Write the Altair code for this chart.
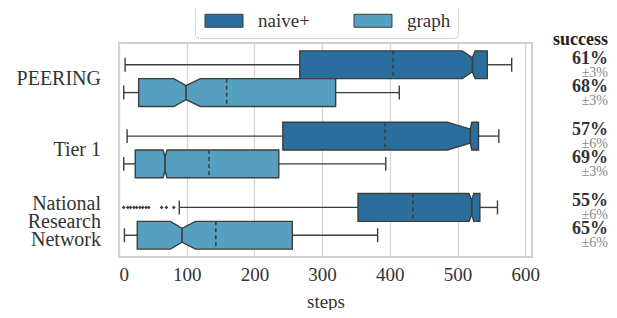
import altair as alt
import pandas as pd

# ---- data ----
groups = ["PEERING", "Tier 1", "National Research Network"]
group_labels = ["PEERING", "Tier 1", "National\nResearch\nNetwork"]
series = ["naive+", "graph"]
colors = ["#2a6e9e", "#55a0c0"]

# order: PEERING naive+, PEERING graph, Tier 1 naive+, Tier 1 graph, NRN naive+, NRN graph
whislo = [9, 7, 12, 7, 89, 8]
q1 = [267, 29, 242, 24, 353, 27]
notch_lo = [507, 81, 485, 65, 517, 76]
median = [522, 99, 519, 68, 521, 93]
notch_hi = [526, 120, 521, 71, 524, 113]
q3 = [544, 320, 531, 236, 533, 256]
whishi = [580, 414, 561, 394, 559, 382]
mean = [405, 159, 393, 133, 434, 143]
success = ["61%", "68%", "57%", "69%", "55%", "65%"]
spread = ["±3%", "±3%", "±6%", "±3%", "±6%", "±6%"]
fliers_nrn_naive = [7, 13, 17, 22, 26, 31, 35, 40, 44, 63, 70, 81]
x_ticks = [0, 100, 200, 300, 400, 500, 600]

half = 0.195  # half box height in group units

rows, poly = [], []
for gi, g in enumerate(groups):
    for si, s in enumerate(series):
        k = gi * 2 + si
        c = gi + 0.5 + (si - 0.5) * 2 * half
        rows.append(dict(group=g, series=s, c=c, top=c - half, bot=c + half,
                         qtop=c - half / 2, qbot=c + half / 2,
                         whislo=whislo[k], q1=q1[k], med=median[k], q3=q3[k],
                         whishi=whishi[k], mean=mean[k],
                         succ=success[k], spr=spread[k]))
        xs = [q1[k], notch_lo[k], median[k], notch_hi[k], q3[k]]
        narrow = [False, False, True, False, False]
        for xv, nw in zip(xs, narrow):
            poly.append(dict(box=f"{g}-{s}", series=s, x=xv,
                             top=c - (half / 2 if nw else half),
                             bot=c + (half / 2 if nw else half)))
df = pd.DataFrame(rows)
dpoly = pd.DataFrame(poly)
nrn_c = df[(df.group == groups[2]) & (df.series == "naive+")].c.iloc[0]
dfl = pd.DataFrame({"x": fliers_nrn_naive, "c": nrn_c})
dlab = pd.DataFrame({"label": group_labels, "c": [i + 0.5 for i in range(3)],
                     "multi": ["\n" in l for l in group_labels]})

FONT = "Liberation Serif"
STROKE = "#3d3d3d"
xscale = alt.Scale(domain=[0, 610], nice=False, zero=False)
yscale = alt.Scale(domain=[0, 3], reverse=True, nice=False, zero=False)
xaxis = alt.Axis(values=x_ticks, title="steps", grid=True, ticks=False, domain=False,
                 labelFont=FONT, labelFontSize=19, labelPadding=8, labelColor="#333",
                 titleFont=FONT, titleFontSize=19, titleFontWeight="normal",
                 titlePadding=8, titleColor="#333", gridColor="#d6d6d6", gridWidth=1.3)


def Y(field):
    return alt.Y(field, scale=yscale, axis=None, stack=None)


def X(field):
    return alt.X(field, scale=xscale, axis=xaxis, title="steps")


base = alt.Chart(df)

whisk_lo = base.mark_rule(color=STROKE, strokeWidth=1.4).encode(
    x=X("whislo:Q"), x2="q1:Q", y=Y("c:Q"))
whisk_hi = base.mark_rule(color=STROKE, strokeWidth=1.4).encode(
    x=X("q3:Q"), x2="whishi:Q", y=Y("c:Q"))
cap_lo = base.mark_rule(color=STROKE, strokeWidth=1.4).encode(
    x=X("whislo:Q"), y=Y("qtop:Q"), y2="qbot:Q")
cap_hi = base.mark_rule(color=STROKE, strokeWidth=1.4).encode(
    x=X("whishi:Q"), y=Y("qtop:Q"), y2="qbot:Q")

boxes = alt.Chart(dpoly).mark_area(orient="vertical", stroke=STROKE, strokeWidth=1.4,
                                   opacity=1, fillOpacity=1).encode(
    x=X("x:Q"), y=Y("top:Q"), y2="bot:Q",
    detail="box:N",
    color=alt.Color("series:N", scale=alt.Scale(domain=series, range=colors),
                    legend=alt.Legend(title=None, orient="none", legendX=76, legendY=-39,
                                      direction="horizontal",
                                      symbolType="M-1,-1H4.846V1H-1Z", symbolSize=169,
                                      symbolStrokeColor=STROKE, symbolStrokeWidth=1,
                                      symbolOpacity=1,
                                      labelFont=FONT, labelFontSize=19, labelColor="#333",
                                      labelOffset=37, columnPadding=41,
                                      padding=7, strokeColor="#d4d4d4", fillColor="white",
                                      cornerRadius=4)))

med_rule = base.mark_rule(color=STROKE, strokeWidth=1.6).encode(
    x=X("med:Q"), y=Y("qtop:Q"), y2="qbot:Q")
mean_rule = base.mark_rule(color=STROKE, strokeWidth=1.6, strokeDash=[4, 3]).encode(
    x=X("mean:Q"), y=Y("top:Q"), y2="bot:Q")

fliers = alt.Chart(dfl).mark_point(shape="diamond", filled=True, color=STROKE,
                                   size=14, opacity=1).encode(x=X("x:Q"), y=Y("c:Q"))

ylab_single = alt.Chart(dlab).transform_filter("!datum.multi").mark_text(
    font=FONT, fontSize=20, align="right", baseline="middle", color="#333").encode(
    x=alt.value(-18), y=Y("c:Q"), text="label:N")
ylab_multi = alt.Chart(dlab).transform_filter("datum.multi").mark_text(
    font=FONT, fontSize=20, align="right", baseline="middle", lineBreak="\n",
    lineHeight=18, dy=-17, color="#333").encode(
    x=alt.value(-18), y=Y("c:Q"), text="label:N")

succ_txt = base.mark_text(font=FONT, fontSize=18, fontWeight="bold", align="right",
                          baseline="middle", dy=-6, color="#333").encode(
    x=alt.value(489), y=Y("c:Q"), text="succ:N")
spr_txt = base.mark_text(font=FONT, fontSize=14, align="right",
                         baseline="middle", dy=8, color="#888").encode(
    x=alt.value(489), y=Y("c:Q"), text="spr:N")
header = alt.Chart(pd.DataFrame({"t": ["success"]})).mark_text(
    font=FONT, fontSize=18, fontWeight="bold", align="right", baseline="middle",
    color="#222").encode(x=alt.value(489), y=alt.value(-3), text="t:N")

chart = alt.layer(whisk_lo, whisk_hi, cap_lo, cap_hi, boxes, med_rule, mean_rule,
                  fliers, ylab_single, ylab_multi, succ_txt, spr_txt, header).properties(
    width=413, height=214,
    autosize=alt.AutoSizeParams(type="none"),
    padding={"left": 111, "top": 35, "right": 77, "bottom": 53},
    background="white",
).configure_view(stroke="#cfcfcf", strokeWidth=2
).configure_legend(labelFont=FONT
).configure_axis(labelFont=FONT, titleFont=FONT)

chart.save("out.html", embed_options={"renderer": "svg", "actions": False})
